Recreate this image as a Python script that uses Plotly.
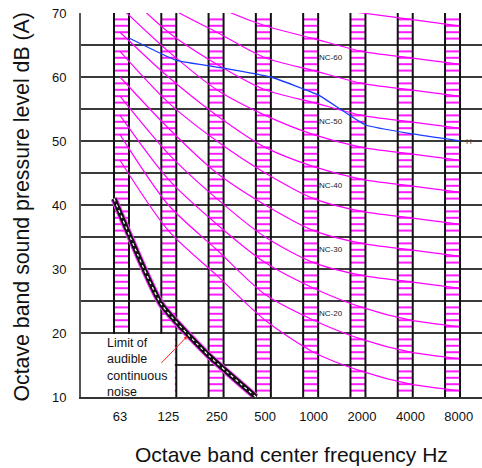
import plotly.graph_objects as go

# ---------------- data ----------------
bands = ["63", "125", "250", "500", "1000", "2000", "4000", "8000"]
y_ticks = [10, 20, 30, 40, 50, 60, 70]

nc15 = [47, 36, 29, 22, 17, 14, 12, 11]
nc20 = [51, 40, 33, 26, 22, 19, 17, 16]
nc25 = [54, 44, 37, 31, 27, 24, 22, 21]
nc30 = [57, 48, 41, 35, 31, 29, 28, 27]
nc35 = [60, 52, 45, 40, 36, 34, 33, 32]
nc40 = [64, 56, 50, 45, 41, 39, 38, 37]
nc45 = [67, 60, 54, 49, 46, 44, 43, 42]
nc50 = [71, 64, 58, 54, 51, 49, 48, 47]
nc55 = [74, 67, 62, 58, 56, 54, 53, 52]
nc60 = [77, 71, 67, 63, 61, 59, 58, 57]
nc65 = [80, 75, 71, 68, 66, 64, 63, 62]
nc70 = [83, 79, 75, 72, 71, 70, 69, 68]
nc_curves = [nc15, nc20, nc25, nc30, nc35, nc40, nc45, nc50, nc55, nc60, nc65, nc70]

nc_label_names = ["NC-60", "NC-50", "NC-40", "NC-30", "NC-20"]
nc_label_levels = [60, 50, 40, 30, 20]

measured = [66.1, 62.6, 61.4, 60.0, 57.2, 52.5, 51.1, 50.0]
limit_values = [41, 24.5, 16.5, 10]          # 63 .. 500 Hz

# ---------------- geometry helpers (band units: 1 band = 48.4 px, 63 Hz = 0) ----------------
BAND_PX = 48.4
COL_STEP = 47.29 / BAND_PX          # spacing of the hatched octave columns
COL_LEFT0 = -6.0 / BAND_PX          # left edge of the 63 Hz column
COL_W = 15.0 / BAND_PX
n = len(bands)
col_left = [COL_LEFT0 + i * COL_STEP for i in range(n)]
col_right = [c + COL_W for c in col_left]
cat_x = list(range(n))

X0 = -39.0 / BAND_PX
X1 = 362.0 / BAND_PX

fig = go.Figure()

# rungs of the octave columns
rx, ry = [], []
for cl, cr in zip(col_left, col_right):
    for d in range(11, 70):
        if d % 5 == 0:
            continue
        rx += [cl, cr, None]
        ry += [d, d, None]
fig.add_trace(go.Scatter(x=rx, y=ry, mode="lines", line=dict(color="#ff1cff", width=2),
                         hoverinfo="skip", showlegend=False))

# column side lines
vx, vy = [], []
for cl, cr in zip(col_left, col_right):
    vx += [cl, cl, None, cr, cr, None]
    vy += [10, 70, None, 10, 70, None]
fig.add_trace(go.Scatter(x=vx, y=vy, mode="lines", line=dict(color="#111111", width=2),
                         hoverinfo="skip", showlegend=False))

# NC curves
for vals in nc_curves:
    fig.add_trace(go.Scatter(x=cat_x, y=vals, mode="lines",
                             line=dict(color="#ff00ff", width=1.2, shape="spline", smoothing=0.8),
                             hoverinfo="skip", showlegend=False))

# white box behind the note
fig.add_trace(go.Scatter(x=[X0, col_right[1] - 0.03, col_right[1] - 0.03, X0, X0],
                         y=[10, 10, 19.85, 19.85, 10], mode="lines", fill="toself",
                         fillcolor="white", line=dict(width=0), hoverinfo="skip", showlegend=False))

# limit of audible continuous noise
lim_x = col_left[:len(limit_values)]
fig.add_trace(go.Scatter(x=lim_x, y=limit_values, mode="lines",
                         line=dict(color="#ff33ff", width=7, shape="spline", smoothing=0.5),
                         hoverinfo="skip", showlegend=False))
fig.add_trace(go.Scatter(x=lim_x, y=limit_values, mode="lines",
                         line=dict(color="#111111", width=5, shape="spline", smoothing=0.5),
                         hoverinfo="skip", showlegend=False))
fig.add_trace(go.Scatter(x=lim_x, y=limit_values, mode="lines",
                         line=dict(color="#ffffff", width=1.2, dash="dot", shape="spline", smoothing=0.5),
                         hoverinfo="skip", showlegend=False))

# measured spectrum
fig.add_trace(go.Scatter(x=col_right, y=measured, mode="lines",
                         line=dict(color="#1a3cff", width=1.3, shape="spline", smoothing=0.35),
                         hoverinfo="skip", showlegend=False))

FONT = "Liberation Sans, Arial, sans-serif"
ann = []
for name, lvl in zip(nc_label_names, nc_label_levels):
    ann.append(dict(x=211.0 / BAND_PX, y=lvl + 3.1, xref="x", yref="y", text=name,
                    showarrow=False, font=dict(family=FONT, size=8, color="#222"),
                    xanchor="center", yanchor="middle"))
ann.append(dict(x=col_right[-1] + 3.5 / BAND_PX, y=measured[-1], xref="x", yref="y", text="H",
                showarrow=False, font=dict(family=FONT, size=8, color="#444"),
                xanchor="left", yanchor="middle"))
ann.append(dict(x=-15.0 / BAND_PX, y=14.6, xref="x", yref="y",
                text="Limit of<br>audible<br>continuous<br>noise", align="left",
                showarrow=False, font=dict(family=FONT, size=12.5, color="#111"),
                xanchor="left", yanchor="middle"))
ann.append(dict(x=67.3 / BAND_PX, y=19.5, ax=40.0 / BAND_PX, ay=15.1,
                xref="x", yref="y", axref="x", ayref="y", text="",
                showarrow=True, arrowhead=2, arrowsize=0.7, arrowwidth=1, arrowcolor="#ff2020"))
ann.append(dict(x=0.525, y=-0.151, xref="paper", yref="paper",
                text="Octave band center frequency Hz", showarrow=False,
                font=dict(family=FONT, size=21, color="#111"), xanchor="center", yanchor="middle"))
ann.append(dict(x=-0.147, y=0.4935, xref="paper", yref="paper", textangle=-90,
                text="Octave band sound pressure level dB (A)", showarrow=False,
                font=dict(family=FONT, size=21.3, color="#111"), xanchor="center", yanchor="middle"))

fig.update_layout(
    width=482, height=468,
    margin=dict(l=81, r=0, t=13, b=71),
    paper_bgcolor="white", plot_bgcolor="white",
    annotations=ann, showlegend=False,
    xaxis=dict(range=[X0, X1], tickvals=cat_x, ticktext=bands, showgrid=False, zeroline=False,
               showline=True, linecolor="#333", linewidth=2, ticks="",
               tickfont=dict(family=FONT, size=13, color="#111"), ticklabelstandoff=6),
    yaxis=dict(range=[10, 70], tickvals=y_ticks, showgrid=True, gridcolor="#3a3a3a", gridwidth=1.5,
               minor=dict(dtick=5, tick0=0, showgrid=True, gridcolor="#3a3a3a", gridwidth=1.5),
               zeroline=False, showline=True, linecolor="#555", linewidth=2, ticks="",
               tickfont=dict(family=FONT, size=13, color="#111"), ticklabelstandoff=10),
)

fig.write_html("out.html", config={"displayModeBar": False},
               post_script="document.body.style.margin='0';document.body.style.overflow='hidden';")
